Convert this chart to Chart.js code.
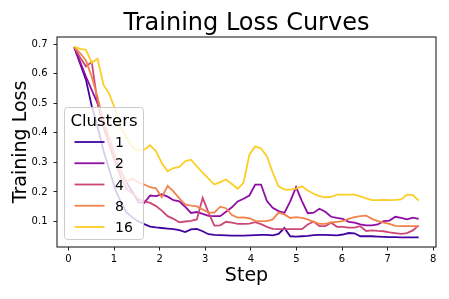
<!DOCTYPE html>
<html>
<head>
<meta charset="utf-8">
<script src="https://cdn.jsdelivr.net/npm/chart.js@4"></script>
<style>
  body { margin: 0; background: #fff; }
  #wrap { width: 449px; height: 299px; }
</style>
</head>
<body>
<div id="wrap"><canvas id="loss-chart"></canvas></div>
<script>
const steps = [0.128, 0.256, 0.384, 0.512, 0.64, 0.768, 0.896, 1.024, 1.152, 1.28,
  1.408, 1.536, 1.664, 1.792, 1.92, 2.048, 2.176, 2.304, 2.432, 2.56,
  2.688, 2.816, 2.944, 3.072, 3.2, 3.328, 3.456, 3.584, 3.712, 3.84,
  3.968, 4.096, 4.224, 4.352, 4.48, 4.608, 4.736, 4.864, 4.992, 5.12,
  5.248, 5.376, 5.504, 5.632, 5.76, 5.888, 6.016, 6.144, 6.272, 6.4,
  6.528, 6.656, 6.784, 6.912, 7.04, 7.168, 7.296, 7.424, 7.552, 7.68];

const clusters = ['1', '2', '4', '8', '16'];

const loss1 = [0.690, 0.635, 0.580, 0.490, 0.420, 0.340, 0.275, 0.210, 0.165, 0.130,
  0.113, 0.100, 0.091, 0.083, 0.080, 0.078, 0.076, 0.074, 0.071, 0.064,
  0.073, 0.075, 0.067, 0.057, 0.055, 0.054, 0.053, 0.052, 0.052, 0.052,
  0.053, 0.054, 0.055, 0.055, 0.053, 0.058, 0.078, 0.050, 0.049, 0.050,
  0.051, 0.054, 0.055, 0.055, 0.054, 0.053, 0.056, 0.061, 0.060, 0.050,
  0.050, 0.050, 0.049, 0.048, 0.047, 0.047, 0.046, 0.046, 0.046, 0.046];
const loss2 = [0.690, 0.640, 0.590, 0.545, 0.500, 0.440, 0.380, 0.320, 0.270, 0.230,
  0.200, 0.165, 0.163, 0.188, 0.186, 0.192, 0.184, 0.172, 0.168, 0.150,
  0.129, 0.132, 0.126, 0.119, 0.118, 0.118, 0.133, 0.148, 0.168, 0.177,
  0.188, 0.225, 0.225, 0.169, 0.146, 0.135, 0.129, 0.168, 0.216, 0.169,
  0.128, 0.130, 0.143, 0.133, 0.116, 0.112, 0.109, 0.099, 0.096, 0.090,
  0.087, 0.087, 0.090, 0.101, 0.103, 0.116, 0.112, 0.107, 0.113, 0.109];
const loss4 = [0.690, 0.655, 0.625, 0.640, 0.500, 0.420, 0.360, 0.300, 0.250, 0.210,
  0.195, 0.175, 0.168, 0.163, 0.152, 0.137, 0.118, 0.109, 0.097, 0.100,
  0.102, 0.107, 0.180, 0.130, 0.086, 0.087, 0.099, 0.096, 0.092, 0.092,
  0.093, 0.098, 0.091, 0.082, 0.075, 0.074, 0.074, 0.074, 0.074, 0.074,
  0.090, 0.100, 0.084, 0.084, 0.096, 0.082, 0.082, 0.079, 0.079, 0.084,
  0.068, 0.070, 0.068, 0.067, 0.063, 0.061, 0.058, 0.061, 0.070, 0.087];
const loss8 = [0.690, 0.670, 0.645, 0.590, 0.520, 0.440, 0.380, 0.320, 0.270, 0.235,
  0.245, 0.232, 0.225, 0.216, 0.212, 0.182, 0.220, 0.202, 0.178, 0.158,
  0.154, 0.151, 0.141, 0.130, 0.130, 0.150, 0.145, 0.122, 0.113, 0.114,
  0.111, 0.102, 0.101, 0.101, 0.107, 0.130, 0.124, 0.112, 0.115, 0.112,
  0.107, 0.099, 0.092, 0.092, 0.097, 0.099, 0.101, 0.109, 0.115, 0.118,
  0.120, 0.109, 0.101, 0.096, 0.092, 0.085, 0.084, 0.084, 0.084, 0.084];
const loss16 = [0.692, 0.684, 0.681, 0.637, 0.651, 0.563, 0.532, 0.480, 0.417, 0.383,
  0.350, 0.340, 0.343, 0.358, 0.338, 0.298, 0.270, 0.281, 0.285, 0.304,
  0.309, 0.287, 0.265, 0.245, 0.225, 0.233, 0.242, 0.227, 0.211, 0.231,
  0.326, 0.354, 0.347, 0.321, 0.265, 0.219, 0.208, 0.208, 0.211, 0.219,
  0.205, 0.194, 0.186, 0.182, 0.183, 0.191, 0.191, 0.191, 0.191, 0.185,
  0.178, 0.172, 0.172, 0.173, 0.172, 0.173, 0.175, 0.191, 0.189, 0.171];

const xTicks = [0, 1, 2, 3, 4, 5, 6, 7, 8];
const yTicks = [0.1, 0.2, 0.3, 0.4, 0.5, 0.6, 0.7];

// plasma colormap samples
const colors = ['#41049d', '#8f0da4', '#cc4778', '#f2844b', '#fcce25'];
const allLoss = [loss1, loss2, loss4, loss8, loss16];

const FONT = '"DejaVu Sans", sans-serif';
Chart.defaults.font.family = FONT;
Chart.defaults.color = '#000';

// rama dookola obszaru wykresu
const framePlugin = {
  id: 'frame',
  afterDraw(chart) {
    const { ctx, chartArea: a } = chart;
    ctx.save();
    ctx.strokeStyle = '#222';
    ctx.lineWidth = 1.1;
    ctx.strokeRect(a.left, a.top, a.right - a.left, a.bottom - a.top);
    ctx.restore();
  }
};

// legenda wewnatrz wykresu, jak w matplotlib
const legendPlugin = {
  id: 'insideLegend',
  afterDatasetsDraw(chart) {
    const { ctx, chartArea: a } = chart;
    const x0 = a.left + 7.5, y0 = a.top + 70.5, w = 79, h = 132;
    ctx.save();
    ctx.beginPath();
    ctx.roundRect(x0, y0, w, h, 3);
    ctx.fillStyle = 'rgba(255,255,255,0.8)';
    ctx.fill();
    ctx.strokeStyle = '#cccccc';
    ctx.lineWidth = 1;
    ctx.stroke();

    ctx.fillStyle = '#000';
    ctx.font = '16.5px ' + FONT;
    ctx.textAlign = 'center';
    ctx.textBaseline = 'alphabetic';
    ctx.fillText('Clusters', x0 + w / 2, y0 + 18.5);

    ctx.font = '14px ' + FONT;
    ctx.textAlign = 'left';
    chart.data.datasets.forEach((ds, i) => {
      const y = y0 + 34.5 + i * 21.25;
      ctx.strokeStyle = ds.borderColor;
      ctx.lineWidth = 1.8;
      ctx.beginPath();
      ctx.moveTo(x0 + 10, y);
      ctx.lineTo(x0 + 40, y);
      ctx.stroke();
      ctx.fillText(ds.label, x0 + 50.5, y + 5.1);
    });
    ctx.restore();
  }
};

const datasets = clusters.map((c, i) => ({
  label: c,
  data: steps.map((s, j) => ({ x: s, y: allLoss[i][j] })),
  borderColor: colors[i],
  backgroundColor: colors[i],
  borderWidth: 1.8,
  pointRadius: 0,
  tension: 0,
  fill: false,
  order: clusters.length - i
}));

const ctx = document.getElementById('loss-chart').getContext('2d');
new Chart(ctx, {
  type: 'line',
  data: { datasets },
  options: {
    responsive: true,
    maintainAspectRatio: false,
    animation: false,
    devicePixelRatio: 1,
    layout: { padding: { top: 0, left: 0, right: 13, bottom: 0 } },
    plugins: {
      legend: { display: false },
      tooltip: { enabled: false },
      title: {
        display: true,
        text: 'Training Loss Curves',
        fullSize: false,
        color: '#000',
        font: { size: 24, weight: 'normal', lineHeight: 1 },
        padding: { top: 11.7, bottom: 1.3 }
      }
    },
    scales: {
      x: {
        type: 'linear',
        min: -0.25,
        max: 8.06,
        afterBuildTicks: s => { s.ticks = xTicks.map(v => ({ value: v })); },
        afterFit: s => { s.height = 52; s.paddingLeft = 0; s.paddingRight = 0; },
        ticks: { font: { size: 10 }, color: '#000', padding: 3 },
        grid: { drawOnChartArea: false, drawTicks: true, tickLength: 3.5, color: '#222', lineWidth: 1 },
        border: { display: false },
        title: {
          display: true,
          text: 'Step',
          color: '#000',
          font: { size: 19 },
          padding: { top: 0, bottom: 11.2 }
        }
      },
      y: {
        type: 'linear',
        min: 0.0137,
        max: 0.7243,
        afterBuildTicks: s => { s.ticks = yTicks.map(v => ({ value: v })); },
        afterFit: s => { s.width = 57; s.paddingTop = 0; s.paddingBottom = 0; },
        ticks: { font: { size: 10 }, color: '#000', padding: 6 },
        grid: { drawOnChartArea: false, drawTicks: true, tickLength: 3.5, color: '#222', lineWidth: 1 },
        border: { display: false },
        title: {
          display: true,
          text: 'Training Loss',
          color: '#000',
          font: { size: 19 },
          padding: { top: 9.6, bottom: 0 }
        }
      }
    }
  },
  plugins: [legendPlugin, framePlugin]
});
</script>
</body>
</html>
